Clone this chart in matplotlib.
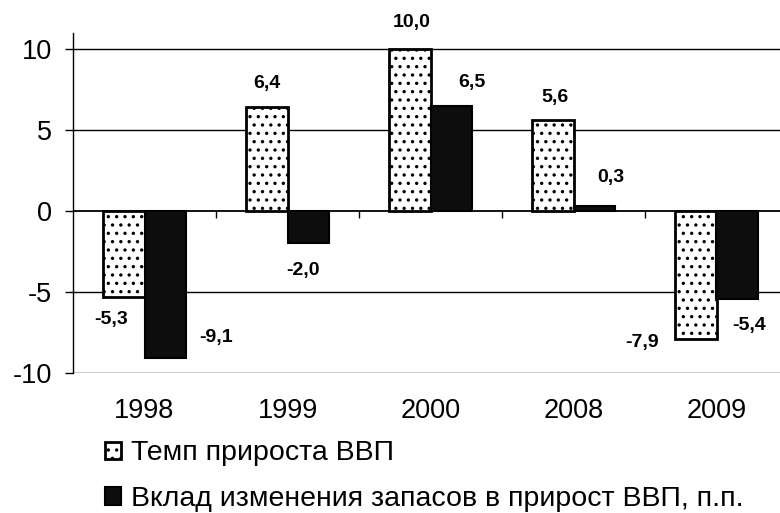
import matplotlib
matplotlib.use("Agg")
import matplotlib.pyplot as plt
import numpy as np

plt.rcParams["font.family"] = ["Liberation Sans", "DejaVu Sans"]
plt.rcParams["hatch.linewidth"] = 1.2

years = ["1998", "1999", "2000", "2008", "2009"]
gdp_growth = [-5.3, 6.4, 10.0, 5.6, -7.9]
stock_contrib = [-9.1, -2.0, 6.5, 0.3, -5.4]
labels = ["Темп прироста ВВП", "Вклад изменения запасов в прирост ВВП, п.п."]

# label offsets in pixels (dx, dy) from bar end
off_gdp = [(-13, -23), (0, 24), (2, 27), (2, 23), (-54, -4)]
off_stock = [(51, 21), (-5, -27), (21, 23), (17, 29), (12, -27)]

x = np.arange(len(years))
w = 0.29

fig = plt.figure(figsize=(7.8, 5.13), dpi=100)
ax = fig.add_axes([73 / 780, 140 / 513, 715 / 780, 340 / 513])

for y in [-10, -5, 0, 5, 10]:
    ax.axhline(y, color="black", lw=1.0 if y else 1.3, zorder=1)

b1 = ax.bar(x - w / 2, gdp_growth, w, facecolor="white", edgecolor="black",
            hatch="..", lw=2, zorder=3, label=labels[0])
b2 = ax.bar(x + w / 2, stock_contrib, w, facecolor="#0d0d0d", edgecolor="black",
            lw=1.5, zorder=3, label=labels[1])

def fmt(v):
    return f"{v:.1f}".replace(".", ",")

for bars, vals, offs in [(b1, gdp_growth, off_gdp), (b2, stock_contrib, off_stock)]:
    for bar, v, (dx, dy) in zip(bars, vals, offs):
        ax.annotate(fmt(v), (bar.get_x() + bar.get_width() / 2, v),
                    xytext=(dx, dy), textcoords="offset pixels",
                    ha="center", va="center", fontsize=14, fontweight="bold")

# small separators on the zero line
ax.vlines(x[:-1] + 0.5, -0.45, 0, color="black", lw=1, zorder=2)

ax.set_xlim(-0.5, 4.5)
ax.set_ylim(-10, 11.0)
ax.set_yticks([-10, -5, 0, 5, 10])
ax.set_yticklabels(["-10", "-5", "0", "5", "10"], fontsize=19.5)
ax.tick_params(axis="y", length=6, width=1, pad=9)
ax.set_xticks(x)
ax.set_xticklabels(years, fontsize=19.5)
ax.tick_params(axis="x", length=0, pad=18)

for s in ["top", "right", "bottom"]:
    ax.spines[s].set_visible(False)
ax.spines["left"].set_linewidth(1.0)

fig.legend(handles=[b1, b2], loc="upper left", bbox_to_anchor=(0.135, 0.142),
           frameon=False, fontsize=20.5, handlelength=0.55, handleheight=0.55,
           handletextpad=0.35, labelspacing=0.7, borderpad=0, borderaxespad=0)

fig.savefig("out.png", dpi=100)
